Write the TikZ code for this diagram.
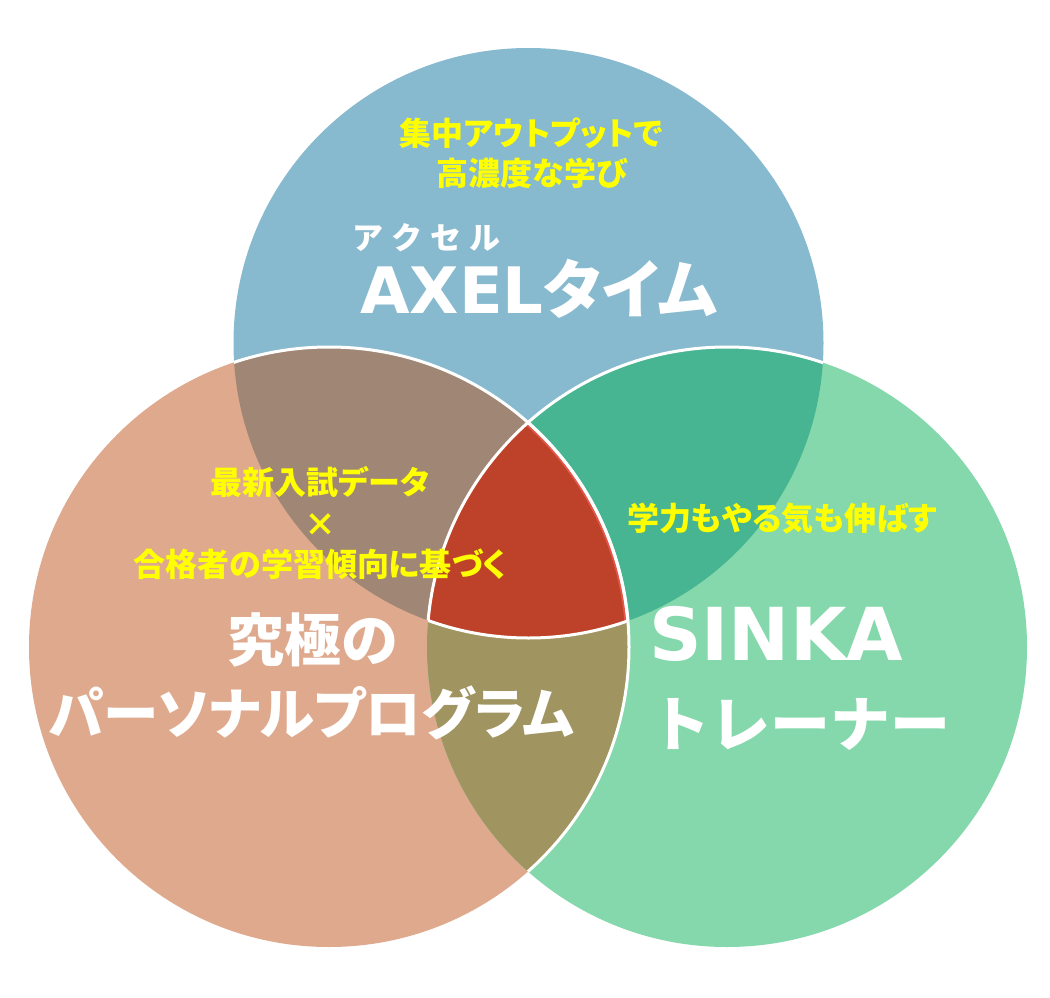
\documentclass[tikz,border=0pt]{standalone}
\usepackage{fontspec}
\newfontfamily\jp{Noto Sans CJK JP}
\newfontfamily\jpp{Noto Sans CJK JP}[RawFeature=+palt]
\newfontfamily\dv{DejaVu Sans}
\definecolor{cblue}{RGB}{135,186,207}
\definecolor{corange}{RGB}{223,169,141}
\definecolor{cgreen}{RGB}{132,216,171}
\definecolor{cbrown}{RGB}{160,134,116}
\definecolor{cdkgreen}{RGB}{71,181,146}
\definecolor{colive}{RGB}{160,148,97}
\definecolor{cred}{RGB}{190,66,41}
\definecolor{cltred}{RGB}{228,88,76}
\definecolor{ylw}{RGB}{255,255,0}
\tikzset{
  yl/.style={text=ylw, font=\jpp\bfseries\fontsize{32pt}{32pt}\selectfont, inner sep=0pt},
  bigw/.style={text=white, font=\jpp\bfseries\fontsize{57pt}{57pt}\selectfont, inner sep=0pt},
  latw/.style={text=white, font=\dv\bfseries\fontsize{73pt}{73pt}\selectfont, inner sep=0pt},
  wline/.style={draw=white, line width=3pt},
}
\def\CB{(528.5,343) circle (295pt)}
\def\CO{(329,647) circle (300pt)}
\def\CG{(727,647) circle (300pt)}
\begin{document}
\begin{tikzpicture}[x=1pt,y=-1pt]
\useasboundingbox[fill=white] (0,0) rectangle (1050,998);
% region fills
\fill[cblue] \CB;
\fill[corange] \CO;
\fill[cgreen] \CG;
\begin{scope}\clip \CB; \fill[cbrown] \CO; \end{scope}
\begin{scope}\clip \CB; \fill[cdkgreen] \CG; \end{scope}
\begin{scope}\clip \CO; \fill[colive] \CG; \end{scope}
\begin{scope}\clip \CB; \clip \CO; \fill[cred] \CG; \end{scope}
% light red rim on the right arc of the centre region
\begin{scope}\clip \CB; \clip \CO; \clip \CG; \draw[cltred, line width=7pt] \CO; \end{scope}
% white outlines
\begin{scope}\clip \CB; \draw[wline] \CO; \draw[wline] \CG; \end{scope}
\begin{scope}\clip \CG; \draw[wline] \CO; \end{scope}
\begin{scope}\clip \CO; \clip \CG; \draw[wline] \CB; \end{scope}
% blue circle texts
\node[yl] (t1) at (531,133) {集中アウトプットで};
\node[yl] (t2) at (532,173) {高濃度な学び};
\node[anchor=base west, inner sep=0pt, text=white, font=\jp\bfseries\fontsize{31pt}{31pt}\selectfont] (acc) at (352,249) {ア\hspace{8pt}ク\hspace{8pt}セ\hspace{8pt}ル};
\node[anchor=base west, inner sep=0pt, text=white, font=\bfseries\fontsize{64pt}{64pt}\selectfont] (axel) at (360,313) {{\dv AXEL}{\jpp タイム}};
% orange circle texts
\node[yl] (o1) at (320,482) {最新入試データ};
\node[yl] (o2) at (320,525) {×};
\node[yl] (o3) at (320,564) {合格者の学習傾向に基づく};
\node[bigw] (o4) at (313,640) {究極の};
\node[bigw, font=\jpp\bfseries\fontsize{55.5pt}{55.5pt}\selectfont] (o5) at (312,713) {パーソナルプログラム};
% green circle texts
\node[yl] (g1) at (782,519) {学力もやる気も伸ばす};
\node[latw, anchor=base west] (g2) at (649,660) {SINKA};
\node[bigw, anchor=west, font=\jp\bfseries\fontsize{60pt}{60pt}\selectfont] (g3) at (650,724) {トレーナー};
\end{tikzpicture}
\end{document}
